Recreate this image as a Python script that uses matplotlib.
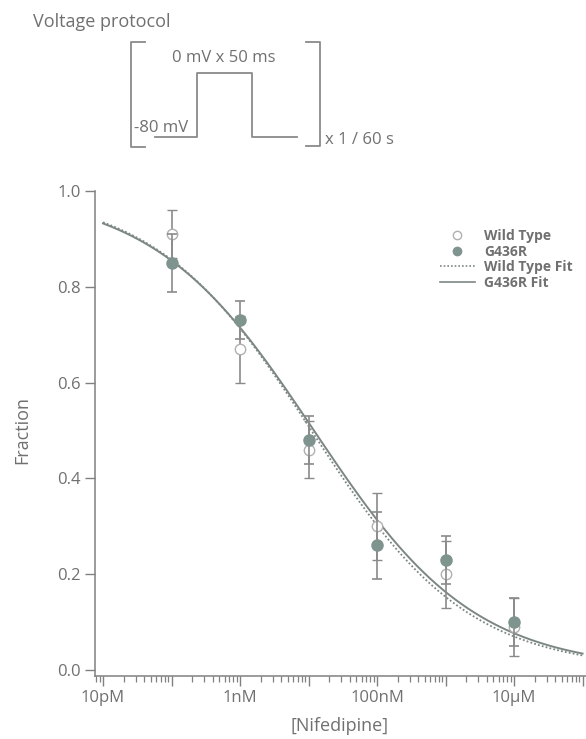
import matplotlib
matplotlib.use("Agg")
import matplotlib.pyplot as plt
import numpy as np
from matplotlib.lines import Line2D

plt.rcParams['font.family'] = ['Open Sans', 'DejaVu Sans']

# ---- data ----
conc = [1e-10, 1e-9, 1e-8, 1e-7, 1e-6, 1e-5]          # M
wt_mean = [0.91, 0.67, 0.46, 0.30, 0.20, 0.09]
wt_err = [0.05, 0.07, 0.06, 0.07, 0.07, 0.06]
g436r_mean = [0.85, 0.73, 0.48, 0.26, 0.23, 0.10]
g436r_err = [0.06, 0.04, 0.05, 0.07, 0.05, 0.05]

# Hill fit parameters (IC50 in M, Hill slope)
wt_fit = (1.10e-8, 0.38)
g436r_fit = (1.20e-8, 0.37)

xticks = [1e-11, 1e-10, 1e-9, 1e-8, 1e-7, 1e-6, 1e-5, 1e-4]
xticklabels = ['10pM', '', '1nM', '', '100nM', '', '10\u00b5M', '']
yticks = [0.0, 0.2, 0.4, 0.6, 0.8, 1.0]

TXT = '#707070'
LINE = '#7c8783'
FILL = '#7f948e'

fig = plt.figure(figsize=(5.86, 7.39), dpi=100)
ax = fig.add_axes([95/586, 63/739, 491/586, 485/739])

xs = np.logspace(-11, -4, 300)
def hill(x, ic50, n):
    return 1.0 / (1.0 + (x / ic50) ** n)

ax.plot(xs, hill(xs, *wt_fit), ls=(0, (1, 1.2)), color=LINE, lw=1.3, zorder=2)
ax.plot(xs, hill(xs, *g436r_fit), ls='-', color=LINE, lw=1.4, zorder=2)

ax.errorbar(conc, wt_mean, yerr=wt_err, fmt='o', ms=7.5, mfc='white', mec='#b0b0b0', mew=1.0,
            ecolor='#8a8a8a', elinewidth=1.2, capsize=3.6, capthick=1.2, zorder=3)
ax.errorbar(conc, g436r_mean, yerr=g436r_err, fmt='o', ms=8, mfc=FILL, mec=FILL,
            ecolor='#8a8a8a', elinewidth=1.2, capsize=3.6, capthick=1.2, zorder=4)

ax.set_xscale('log')
ax.set_xlim(10 ** -11.117, 10 ** -3.95)
ax.set_ylim(-0.0126, 1.0)
ax.set_xticks(xticks)
ax.set_xticklabels(xticklabels)
ax.set_yticks(yticks)
ax.set_yticklabels(['%.1f' % v for v in yticks])

for s in ['top', 'right']:
    ax.spines[s].set_visible(False)
for s in ['left', 'bottom']:
    ax.spines[s].set_color('#808080')
    ax.spines[s].set_linewidth(1.1)
ax.tick_params(axis='both', which='major', color='#808080', labelcolor=TXT, labelsize=12, width=1.0)
ax.tick_params(axis='y', length=7, pad=3)
ax.tick_params(axis='x', which='major', length=7, pad=3)
ax.tick_params(axis='x', which='minor', length=4, color='#808080', width=0.9)

fig.text(22/586, 1 - 430/739, 'Fraction', fontsize=13, color=TXT, rotation=90,
         ha='center', va='center')
fig.text(340/586, 1 - 726/739, '[Nifedipine]', fontsize=13, color=TXT,
         ha='center', va='center')

# legend
handles = [
    Line2D([], [], ls='none', marker='o', ms=6, mfc='white', mec='#b0b0b0'),
    Line2D([], [], ls='none', marker='o', ms=6, mfc=FILL, mec=FILL),
    Line2D([], [], ls=(0, (1, 1.2)), color=LINE, lw=1.2),
    Line2D([], [], ls='-', color=LINE, lw=1.2),
]
labels = ['Wild Type', 'G436R', 'Wild Type Fit', 'G436R Fit']
leg = fig.legend(handles, labels, loc='upper left', bbox_to_anchor=(433/586, 1 - 222/739),
                 frameon=False, fontsize=10, handlelength=2.5, handletextpad=0.7,
                 labelspacing=0.12, borderpad=0)
for t in leg.get_texts():
    t.set_color(TXT)
    t.set_fontweight('bold')

# voltage protocol schematic (pixel coordinates)
ov = fig.add_axes([0, 0, 1, 1], facecolor='none')
ov.set_xlim(0, 586)
ov.set_ylim(739, 0)
ov.axis('off')
kw = dict(color='#8a8a8a', lw=1.3)
ov.plot([145, 131, 131, 145], [42, 42, 147, 147], **kw)
ov.plot([306, 320, 320, 306], [42, 42, 146, 146], **kw)
ov.plot([155, 197, 197, 252, 252, 297], [137, 137, 73, 73, 137, 137], **kw)
ov.text(33, 22, 'Voltage protocol', fontsize=13, color=TXT, va='center', ha='left')
ov.text(224, 58, '0 mV x 50 ms', fontsize=12, color=TXT, va='center', ha='center')
ov.text(134, 128, '-80 mV', fontsize=12, color=TXT, va='center', ha='left')
ov.text(325, 140, 'x 1 / 60 s', fontsize=12, color=TXT, va='center', ha='left')

fig.savefig('out.png', dpi=100)
